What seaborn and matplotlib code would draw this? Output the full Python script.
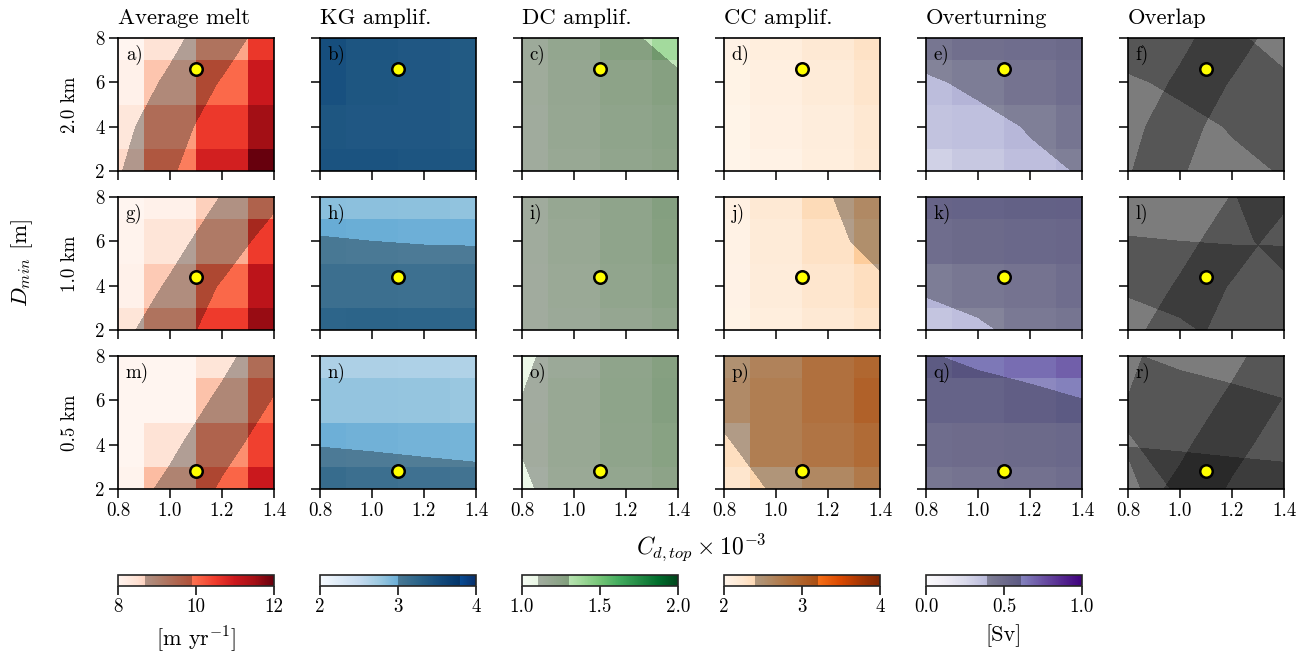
import matplotlib
matplotlib.use("Agg")
import matplotlib.pyplot as plt
import numpy as np
import seaborn as sns

# grid of the runs
x_vals = [0.8, 1.0, 1.2, 1.4]
y_vals = [2, 4, 6, 8]
row_labels = ["2.0 km", "1.0 km", "0.5 km"]
titles = ["Average melt", "KG amplif.", "DC amplif.", "CC amplif.", "Overturning", "Overlap"]
letters = list("abcdefghijklmnopqr")
ref_x = 1.1
ref_y = [6.6, 4.4, 2.8]

# each grid: rows go D_min = 2, 4, 6, 8 ; columns go C_d = 0.8 ... 1.4
melt = [
    [[8.6, 9.75, 10.9, 12.0], [8.35, 9.38, 10.54, 11.5], [8.1, 8.86, 10.0, 11.0], [8.0, 8.45, 9.28, 10.55]],
    [[8.4, 9.28, 10.5, 11.6], [8.1, 8.8, 10.02, 11.2], [8.05, 8.4, 9.15, 10.51], [8.0, 8.1, 8.73, 9.57]],
    [[8.05, 8.99, 10.05, 11.0], [8.0, 8.45, 9.54, 10.44], [8.0, 8.0, 8.91, 9.97], [8.0, 8.0, 8.4, 9.4]],
]
kg = [
    [[3.45, 3.45, 3.43, 3.42], [3.42, 3.4, 3.4, 3.38], [3.48, 3.42, 3.4, 3.38], [3.5, 3.43, 3.4, 3.38]],
    [[3.25, 3.26, 3.25, 3.24], [3.12, 3.12, 3.11, 3.12], [3.02, 3.0, 2.99, 2.985], [2.85, 2.84, 2.83, 2.82]],
    [[3.17, 3.13, 3.1, 3.076], [2.99, 2.975, 2.96, 2.95], [2.8, 2.8, 2.79, 2.78], [2.66, 2.66, 2.65, 2.64]],
]
dc = [
    [[1.12, 1.17, 1.21, 1.24], [1.12, 1.18, 1.22, 1.25], [1.13, 1.19, 1.24, 1.27], [1.14, 1.2, 1.27, 1.37]],
    [[1.11, 1.15, 1.19, 1.22], [1.11, 1.16, 1.21, 1.25], [1.12, 1.17, 1.22, 1.27], [1.12, 1.18, 1.22, 1.28]],
    [[1.08, 1.16, 1.2, 1.24], [1.107, 1.17, 1.22, 1.26], [1.102, 1.17, 1.23, 1.28], [1.08, 1.15, 1.22, 1.27]],
]
cc = [
    [[2.02, 2.06, 2.12, 2.2], [2.03, 2.08, 2.14, 2.22], [2.04, 2.1, 2.17, 2.26], [2.05, 2.12, 2.2, 2.3]],
    [[2.04, 2.12, 2.2, 2.28], [2.05, 2.15, 2.25, 2.33], [2.06, 2.17, 2.3, 2.53], [2.08, 2.2, 2.38, 2.58]],
    [[2.25, 2.433, 2.6, 2.75], [2.33, 2.7, 2.8, 2.9], [2.567, 2.7, 2.85, 3.0], [2.5, 2.65, 2.85, 2.95]],
]
ot = [
    [[0.29, 0.33, 0.37, 0.395], [0.35, 0.36, 0.396, 0.45], [0.375, 0.41, 0.46, 0.49], [0.448, 0.48, 0.49, 0.51]],
    [[0.34, 0.37, 0.427, 0.45], [0.407, 0.44, 0.46, 0.49], [0.49, 0.51, 0.52, 0.53], [0.54, 0.55, 0.56, 0.57]],
    [[0.44, 0.46, 0.47, 0.49], [0.49, 0.5, 0.51, 0.52], [0.55, 0.55, 0.575, 0.607], [0.60, 0.639, 0.67, 0.71]],
]

fields = [melt, kg, dc, cc, ot]
cmaps = ["Reds", "Blues", "Greens", "Oranges", "Purples"]
vlims = [(8, 12), (2, 4), (1, 2), (2, 4), (0, 1)]
targets = [(8.7, 9.9), (3.0, 3.8), (1.1, 1.3), (2.4, 3.2), (0.39, 0.61)]
cb_ticks = [[8, 10, 12], [2, 3, 4], [1.0, 1.5, 2.0], [2, 3, 4], [0.0, 0.5, 1.0]]
cb_ticklabels = [["8", "10", "12"], ["2", "3", "4"], ["1.0", "1.5", "2.0"], ["2", "3", "4"], ["0.0", "0.5", "1.0"]]
cb_units = ["[m yr$^{-1}$]", "", "", "", "[Sv]"]

sns.set_style("ticks")
plt.rcParams["font.family"] = ["cmr10", "DejaVu Serif"]
plt.rcParams["mathtext.fontset"] = "cm"
plt.rcParams["axes.formatter.use_mathtext"] = True
plt.rcParams["font.size"] = 13.6
plt.rcParams["xtick.color"] = "black"
plt.rcParams["ytick.color"] = "black"
plt.rcParams["text.color"] = "black"
plt.rcParams["axes.labelcolor"] = "black"

W, H = 1316, 661
fig = plt.figure(figsize=(W / 100, H / 100), dpi=100)


def px_axes(left, top, w, h):
    return fig.add_axes([left / W, 1 - (top + h) / H, w / W, h / H])


# heatmap cells sit on integer positions -> convert the run coordinates
def to_u(x):
    return (x - 0.8) / 0.2 + 0.5


def to_v(y):
    return (8 - y) / 2 + 0.5


U = [to_u(x) for x in x_vals]
V = [to_v(y) for y in y_vals]
col_left = [118 + 202 * j for j in range(6)]
row_top = [38, 197, 356]

k = 0
for r in range(3):
    for c in range(6):
        ax = px_axes(col_left[c], row_top[r], 156, 133)
        if c < 5:
            Z = np.array(fields[c][r])
            sns.heatmap(np.flipud(Z), ax=ax, cmap=cmaps[c], vmin=vlims[c][0], vmax=vlims[c][1],
                        cbar=False, xticklabels=False, yticklabels=False)
            ax.contourf(U, V, Z, levels=list(targets[c]), colors="k", alpha=0.3)
        else:
            ax.set_facecolor("white")
            for f in range(5):
                ax.contourf(U, V, np.array(fields[f][r]), levels=list(targets[f]), colors="k", alpha=0.3)
        ax.plot(to_u(ref_x), to_v(ref_y[r]), "o", ms=9, mfc="#ffff00", mec="k", mew=1.8, zorder=6)
        ax.set_xlim(0.5, 3.5)
        ax.set_ylim(3.5, 0.5)
        ax.set_xticks(U)
        ax.set_xticklabels(["0.8", "1.0", "1.2", "1.4"] if r == 2 else [])
        ax.set_yticks(V)
        ax.set_yticklabels(["2", "4", "6", "8"] if c == 0 else [])
        ax.tick_params(direction="out", length=6.5, width=1.1, pad=3)
        for s in ax.spines.values():
            s.set_visible(True)
            s.set_linewidth(1.2)
            s.set_color("black")
        ax.text(0.05, 0.95, letters[k] + ")", transform=ax.transAxes, ha="left", va="top", zorder=7)
        k += 1
        if r == 0:
            ax.set_title(titles[c], loc="left", pad=10)
        if c == 0:
            ax.set_ylabel(row_labels[r], labelpad=12)
        else:
            ax.set_ylabel("")
        ax.set_xlabel("")

# colorbars with the target range shaded
for c in range(5):
    cax = px_axes(col_left[c], 575, 156, 11)
    sm = plt.cm.ScalarMappable(norm=plt.Normalize(*vlims[c]), cmap=cmaps[c])
    cb = fig.colorbar(sm, cax=cax, orientation="horizontal")
    cb.set_ticks(cb_ticks[c], labels=cb_ticklabels[c])
    cb.outline.set_linewidth(1.2)
    cax.axvspan(targets[c][0], targets[c][1], color="k", alpha=0.3, lw=0)
    cax.tick_params(direction="out", length=6.5, width=1.1, pad=2)
    if cb_units[c]:
        cax.set_xlabel(cb_units[c], labelpad=6, fontsize=16)

fig.text(701 / W, 1 - 547 / H, r"$C_{d,top}\times10^{-3}$", ha="center", va="center", fontsize=17)
fig.text(22 / W, 1 - 263 / H, r"$D_{min}$ [m]", rotation=90, ha="center", va="center", fontsize=16.5)

fig.savefig("out.png", dpi=100)
